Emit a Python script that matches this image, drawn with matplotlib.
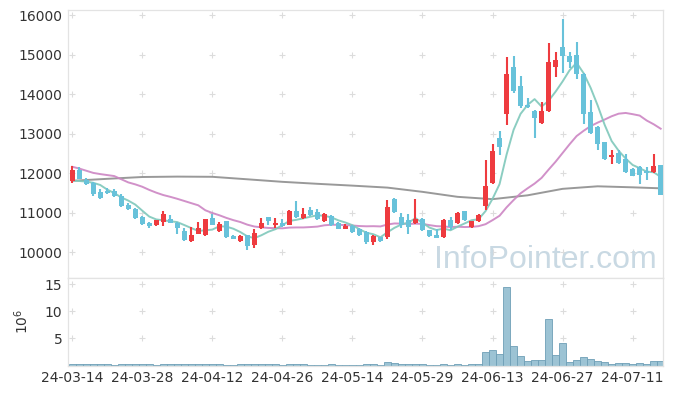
import numpy as np
import pandas as pd
import matplotlib
matplotlib.use('Agg')
import matplotlib.pyplot as plt

# ---------------- data ----------------
holidays = ['2024-04-10', '2024-05-01', '2024-05-06', '2024-05-15', '2024-06-06']
dates = pd.bdate_range('2024-03-14', '2024-07-17', freq='C', holidays=holidays)

opens = [11805, 12076, 11840, 11754, 11519, 11544, 11544, 11417, 11189, 11106,
         10893, 10741, 10683, 10767, 10853, 10741, 10531, 10286, 10473, 10448,
         10868, 10539, 10784, 10413, 10286, 10430, 10177, 10615, 10886, 10690,
         10751, 10700, 11037, 10868, 11063, 11020, 10784, 10919, 10751, 10600,
         10665, 10600, 10514, 10260, 10387, 10387, 11359, 10893, 10827, 10741,
         10853, 10556, 10430, 10387, 10810, 10741, 11037, 10640, 10792, 11164,
         11764, 12886, 13486, 14676, 14203, 13714, 13577, 13273, 13577, 14691,
         15198, 14970, 14987, 14506, 13537, 13172, 12785, 12412, 12514, 12354,
         12119, 12159, 12058, 12033, 12202]
highs = [12177, 12159, 11873, 11780, 11602, 11638, 11595, 11486, 11240, 11130,
         10910, 10776, 10830, 11037, 10954, 10760, 10615, 10640, 10767, 10853,
         10979, 10767, 10800, 10430, 10430, 10450, 10600, 10868, 10900, 10868,
         10835, 11060, 11291, 11121, 11146, 11106, 10990, 10935, 10770, 10726,
         10690, 10620, 10530, 10430, 10400, 11334, 11380, 10987, 10979, 11359,
         10870, 10570, 10600, 10840, 10893, 11020, 11050, 10800, 10970, 12329,
         12734, 13080, 14929, 14962, 14450, 13906, 13600, 13805, 15291, 15071,
         15891, 15071, 15324, 14530, 13848, 13190, 12800, 12600, 12600, 12480,
         12140, 12180, 12159, 12498, 12220]
lows = [11754, 11855, 11696, 11435, 11350, 11470, 11400, 11150, 11070, 10835,
        10700, 10624, 10658, 10665, 10740, 10473, 10290, 10270, 10460, 10420,
        10690, 10520, 10370, 10330, 10270, 10068, 10108, 10600, 10700, 10615,
        10640, 10690, 10880, 10850, 10920, 10830, 10770, 10680, 10580, 10580,
        10490, 10420, 10220, 10177, 10270, 10346, 10990, 10607, 10473, 10730,
        10540, 10390, 10360, 10370, 10556, 10730, 10790, 10620, 10780, 11063,
        11721, 12450, 13215, 14018, 13645, 13650, 12904, 13250, 13544, 14438,
        14524, 14651, 14372, 13240, 13000, 12600, 12340, 12228, 12240, 12010,
        11920, 11739, 11822, 12010, 11440]
closes = [12076, 11865, 11721, 11486, 11374, 11493, 11425, 11172, 11088, 10868,
          10726, 10675, 10810, 10979, 10751, 10615, 10303, 10430, 10615, 10835,
          10700, 10726, 10387, 10346, 10413, 10159, 10498, 10751, 10792, 10734,
          10665, 11037, 10893, 10979, 10936, 10853, 10961, 10700, 10600, 10665,
          10514, 10448, 10260, 10405, 10286, 11146, 11012, 10683, 10640, 10853,
          10556, 10404, 10372, 10827, 10640, 11005, 10810, 10784, 10954, 11671,
          12557, 12666, 14506, 14083, 13704, 13678, 13400, 13570, 14810, 14861,
          14970, 14818, 14506, 13486, 13020, 12752, 12362, 12455, 12260, 12033,
          11941, 11957, 12018, 12177, 11460]
# volume in millions of shares
volumes = [0.36, 0.22, 0.22, 0.22, 0.22, 0.22, 0.04, 0.22, 0.22, 0.22,
           0.22, 0.22, 0.04, 0.22, 0.22, 0.22, 0.22, 0.22, 0.22, 0.22,
           0.22, 0.22, 0.04, 0.04, 0.22, 0.22, 0.22, 0.36, 0.22, 0.22,
           0.04, 0.22, 0.22, 0.22, 0.04, 0.04, 0.04, 0.22, 0.04, 0.04,
           0.04, 0.04, 0.22, 0.22, 0.04, 0.72, 0.50, 0.22, 0.22, 0.36,
           0.22, 0.04, 0.04, 0.22, 0.04, 0.22, 0.04, 0.22, 0.22, 2.47,
           2.90, 2.10, 14.6, 3.55, 1.75, 0.90, 1.08, 1.08, 8.60, 2.00,
           4.15, 0.72, 1.08, 1.57, 1.27, 0.90, 0.66, 0.36, 0.54, 0.54,
           0.36, 0.54, 0.22, 0.90, 0.90]
# moving-average values before enough history is visible
ma5_head = [11815, 11805, 11790, 11760]
ma20_head = [12165, 12120, 12065, 12010, 11980, 11955, 11930, 11850, 11770, 11720,
             11660, 11580, 11510, 11450, 11405, 11355, 11300, 11245, 11190]
# long moving average (gray) read at every 5th session
long_ma_idx = [0, 5, 10, 15, 20, 25, 30, 35, 40, 45, 50, 55, 60, 65, 70, 75, 80, 84]
long_ma = [11810, 11860, 11906, 11916, 11911, 11848, 11784, 11734, 11688, 11638,
           11531, 11405, 11346, 11443, 11607, 11671, 11645, 11620]

price_ticks = [10000, 11000, 12000, 13000, 14000, 15000, 16000]
vol_ticks = [5, 10, 15]

# ---------------- figure ----------------
W, H = 673, 396
fig = plt.figure(figsize=(W / 100, H / 100), dpi=100)
ax = fig.add_axes([68 / W, 1 - 277.5 / H, 595 / W, 267.5 / H])
axv = fig.add_axes([68 / W, 1 - 365.5 / H, 595 / W, 87.5 / H])

font = 'Noto Sans'
plt.rcParams['font.family'] = [font, 'DejaVu Sans']

n = len(closes)
x = np.arange(n)
o = np.array(opens, float)
c = np.array(closes, float)
hi = np.array(highs, float)
lo = np.array(lows, float)
up = c >= o
RED = '#ee3b3f'
BLUE = '#68c2da'
cols = np.where(up, RED, BLUE)

spine_col = '#e3e3e3'
grid_col = '#dcdcdc'

# grid "+" markers
for a, yt in ((ax, price_ticks), (axv, vol_ticks)):
    xs, ys = np.meshgrid(x[::10], yt)
    a.scatter(xs.ravel(), ys.ravel(), marker='+', s=20, color=grid_col,
              linewidths=0.8, zorder=0)

# watermark
ax.text(0.99, 0.034, 'InfoPointer.com', transform=ax.transAxes, ha='right',
        va='baseline', fontsize=23, color='#c9d9e3', family='Liberation Sans',
        zorder=0.5)

# moving averages
ma5 = pd.Series(c).rolling(5).mean().to_numpy()
ma5[:len(ma5_head)] = ma5_head
ma20 = pd.Series(c).rolling(20).mean().to_numpy()
ma20[:len(ma20_head)] = ma20_head
ax.plot(long_ma_idx, long_ma, color='#8e8e8e', lw=1.4, alpha=0.9, zorder=1)
ax.plot(x, ma20, color='#cc85c3', lw=1.4, alpha=0.9, zorder=1)
ax.plot(x, ma5, color='#7fc8bb', lw=1.4, alpha=0.9, zorder=1)

# candles
ax.vlines(x, lo, hi, colors=cols, lw=1.5, zorder=2)
body_lo = np.minimum(o, c)
body_h = np.maximum(np.abs(c - o), 25)
ax.bar(x, body_h, bottom=body_lo, width=0.72, color=cols, lw=0, zorder=3)

ax.set_xlim(-0.6, 84.33)
ax.set_ylim(9366, 16127)
ax.set_yticks(price_ticks)
ax.set_yticklabels([str(t) for t in price_ticks])
ax.set_xticks([])

# volume
axv.bar(x, volumes, width=1.0, color='#9cc3d4', edgecolor='#6e9fb6', lw=0.6,
        zorder=2)
axv.set_xlim(-0.6, 84.33)
axv.set_ylim(0, 16.2)
axv.set_yticks(vol_ticks)
axv.set_yticklabels([str(t) for t in vol_ticks])
axv.set_xticks(x[::10])
axv.set_xticklabels([d.strftime('%y-%m-%d') for d in dates[::10]])
axv.set_ylabel('10$^{6}$', fontsize=10, color='#333333', labelpad=10)

for a in (ax, axv):
    for s in a.spines.values():
        s.set_color(spine_col)
        s.set_linewidth(0.9)
    a.tick_params(length=0, labelsize=10, colors='#333333', pad=4)
    a.set_facecolor('white')

fig.savefig('out.png', dpi=100)
